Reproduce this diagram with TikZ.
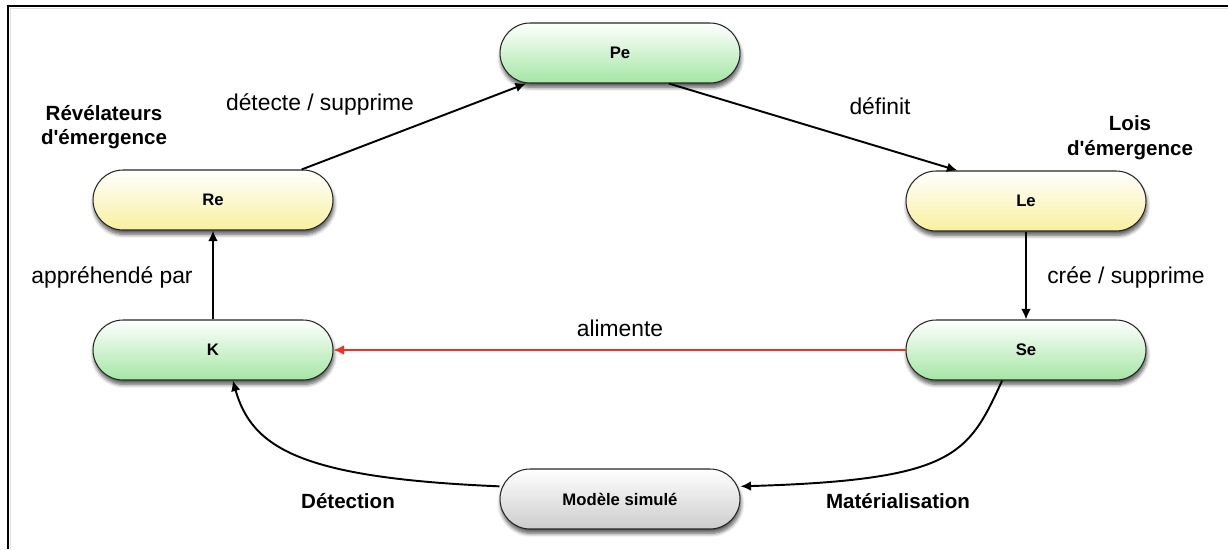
\documentclass[tikz,border=0pt]{standalone}
\usepackage{fontspec}
\setmainfont{Liberation Sans}
\usepackage{tikz}
\usetikzlibrary{arrows.meta,shadows,shadows.blur}
\definecolor{vertbas}{RGB}{164,230,164}
\definecolor{jaunebas}{RGB}{248,240,158}
\definecolor{grisbas}{RGB}{204,204,204}
\definecolor{rouge}{RGB}{240,50,30}
\tikzstyle{etat}=[rectangle, rounded corners=0.6cm, draw=black!85, line width=0.6pt,
  minimum width=4.8cm, minimum height=1.2cm, top color=white,
  font=\fontsize{9.5}{11}\selectfont\bfseries,
  blur shadow={shadow xshift=0.5pt, shadow yshift=-2.5pt, shadow blur steps=6, shadow opacity=65}]
\tikzstyle{vert}=[etat, bottom color=vertbas]
\tikzstyle{jaune}=[etat, bottom color=jaunebas]
\tikzstyle{gris}=[etat, bottom color=grisbas]
\tikzstyle{lien}=[-{Latex[length=6pt,width=5.5pt]}, line width=1.1pt]
\tikzstyle{etiq}=[font=\fontsize{13}{15}\selectfont]
\tikzstyle{titre}=[font=\fontsize{11.7}{14}\selectfont\bfseries, align=center]

\begin{document}
\begin{tikzpicture}[x=0.02cm, y=-0.02cm]
\useasboundingbox (0,0) rectangle (1228,549);
% cadre
\draw[black!12, line width=1pt] (10.5,549) -- (10.5,8.5) -- (1228,8.5);
\draw[line width=1.2pt] (8,549) -- (8,6) -- (1228,6);
% etats
\node[vert]  (pe) at (620,53)  {Pe};
\node[jaune] (re) at (213,200) {Re};
\node[jaune] (le) at (1026,201) {Le};
\node[vert]  (k)  at (213,350) {K};
\node[vert]  (se) at (1026,350) {Se};
\node[gris]  (ms) at (620,499) {Modèle simulé};
% titres
\node[titre] (trev) at (104,127) {Révélateurs\\d\textquotesingle émergence};
\node[titre] (tlois) at (1130,138) {Lois\\d\textquotesingle émergence};
% liens
\draw[lien] (re.19) -- (pe.198);
\draw[lien] (pe.-32) -- (le.156);
\draw[lien] (le.south) -- (se.north);
\draw[lien] (k.north) -- (re.south);
\draw[-{Latex[length=6pt,width=5.5pt]}, rouge, line width=0.9pt] (se.west) -- (k.east);
\draw[lien] (se.232) .. controls (968,455) and (955,480) .. (ms.6);
\draw[lien] (ms.174) .. controls (300,478) and (252,448) .. (k.-57);
% etiquettes
\node[etiq] (edet) at (320,104) {détecte / supprime};
\node[etiq] (edef) at (880,106) {définit};
\node[etiq] (ecre) at (1126,277) {crée / supprime};
\node[etiq] (eapp) at (112,277) {appréhendé par};
\node[etiq] (eali) at (620,328) {alimente};
\node[titre] (edtc) at (348,501) {Détection};
\node[titre] (emat) at (898,501) {Matérialisation};
\end{tikzpicture}
\end{document}
